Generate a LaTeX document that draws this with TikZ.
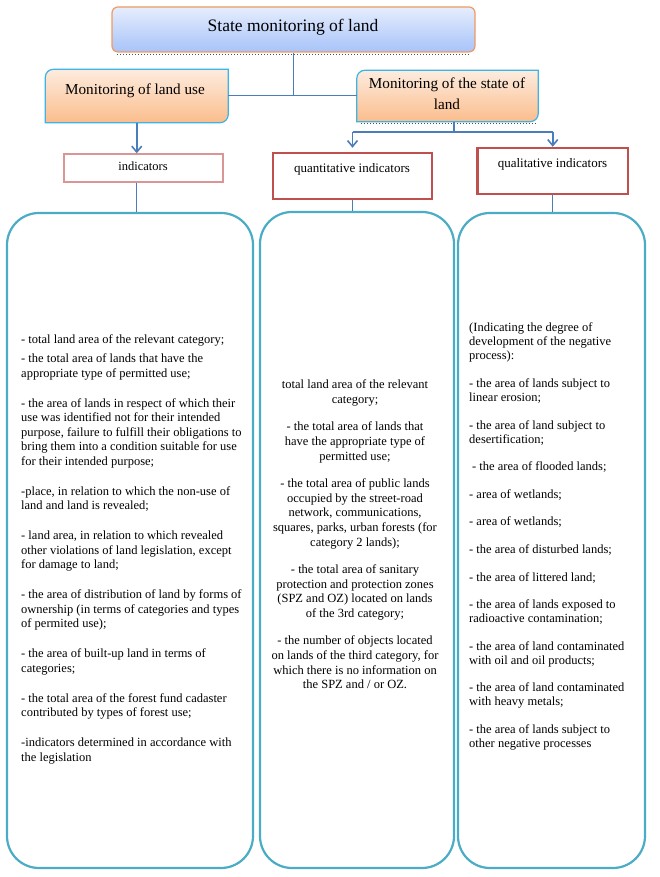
\documentclass[tikz,border=0pt]{standalone}
\usepackage{fontspec}
\setmainfont{Liberation Serif}
\usetikzlibrary{arrows.meta}
\definecolor{blueline}{HTML}{4A7EBB}
\definecolor{topA}{HTML}{E6EDFD}
\definecolor{topB}{HTML}{A7C3F9}
\definecolor{topborder}{HTML}{F09A63}
\definecolor{orA}{HTML}{FDECDF}
\definecolor{orB}{HTML}{FBBD8C}
\definecolor{cyanb}{HTML}{3CB4E5}
\definecolor{indborder}{HTML}{D99694}
\definecolor{redb}{HTML}{C0504D}
\definecolor{tealb}{HTML}{4BACC6}
\begin{document}
\begin{tikzpicture}[x=1pt,y=1pt,
  conn/.style={draw=blueline, line width=1pt},
  arr/.style={draw=blueline, line width=1.6pt, -{Straight Barb[length=6pt,width=10pt]}},
  arrline/.style={draw=blueline, line width=1.6pt},
  shapebox/.style={inner sep=0pt},
  redbox/.style={draw=redb, line width=2.4pt, fill=white, inner sep=0pt},
  bigbox/.style={draw=tealb, line width=2.2pt, rounded corners=32pt, fill=white, inner sep=0pt},
  lbl/.style={inner sep=0pt, align=center},
  body/.style={inner sep=0pt, font=\fontsize{12.5}{14.5}\selectfont}
]
\useasboundingbox (0,0) rectangle (659,877);
\fill[white] (0,0) rectangle (659,877);

% top box
\node[shapebox, draw=topborder, line width=1.2pt, rounded corners=6pt, top color=topA, bottom color=topB,
  minimum width=363pt, minimum height=45pt] (top) at (293.5,847.5) {};
\draw[dotted, line width=1pt, black!70] ([xshift=6pt,yshift=-1.6pt]top.south west) -- ([xshift=-6pt,yshift=-1.6pt]top.south east);
\node[lbl, font=\fontsize{17.5}{20}\selectfont] (toptxt) at (293,849.5) {State monitoring of land};

% level 2 boxes
\node[shapebox, minimum width=182.5pt, minimum height=53pt] (lu) at (136.75,781) {};
\path[draw=cyanb, line width=1.2pt, top color=orA, bottom color=orB]
  (lu.south west) -- ([yshift=-8pt]lu.north west) arc[start angle=180, end angle=90, radius=8pt]
  -- (lu.north east) -- ([yshift=8pt]lu.south east) arc[start angle=0, end angle=-90, radius=8pt] -- cycle;
\node[lbl, font=\fontsize{15.2}{21}\selectfont] (lutxt) at (135,786.5) {Monitoring of land use};

\node[shapebox, minimum width=181pt, minimum height=51pt] (rs) at (447.5,781) {};
\path[draw=cyanb, line width=1.2pt, top color=orA, bottom color=orB]
  (rs.south west) -- ([yshift=-8pt]rs.north west) arc[start angle=180, end angle=90, radius=8pt]
  -- (rs.north east) -- ([yshift=8pt]rs.south east) arc[start angle=0, end angle=-90, radius=8pt] -- cycle;
\draw[dotted, line width=1pt, black!70] ([xshift=4pt,yshift=-1.6pt]rs.south west) -- ([xshift=-2pt,yshift=-1.6pt]rs.south east);
\node[lbl, font=\fontsize{15.2}{21}\selectfont] (rstxt) at (447,783.5) {Monitoring of the state of\\land};

% level 3 boxes
\node[shapebox, draw=indborder, line width=1.3pt, fill=white, minimum width=159pt, minimum height=28pt] (ind) at (143.5,709) {};
\node[lbl, font=\fontsize{12.5}{14}\selectfont] (indtxt) at (143,711) {indicators};
\node[redbox, minimum width=159pt, minimum height=46pt] (quant) at (352.5,701) {};
\node[lbl, font=\fontsize{13}{15}\selectfont] (quanttxt) at (352,708) {quantitative indicators};
\node[redbox, minimum width=150.5pt, minimum height=46pt] (qual) at (552.75,706) {};
\node[lbl, font=\fontsize{13}{15}\selectfont] (qualtxt) at (552.5,713) {qualitative indicators};

% big boxes
\node[bigbox, minimum width=246pt, minimum height=655pt] (lbig) at (130,336.5) {};
\node[bigbox, minimum width=194pt, minimum height=656pt] (mbig) at (357,337) {};
\node[bigbox, minimum width=187pt, minimum height=655pt] (rbig) at (551.5,336.5) {};

% connectors
\draw[conn] (top.south) -- (top.south |- lu.east);
\draw[conn] (lu.east) -- (rs.west);
\draw[arr] (lu.south) -- (lu.south |- ind.north);
\coordinate (rj) at (454,745);
\draw[arrline] (rj |- rs.south) -- (rj);
\draw[arrline] (quant.north |- rj) -- (qual.north |- rj);
\draw[arr] (quant.north |- rj) -- ([yshift=4pt]quant.north);
\draw[arr] (qual.north |- rj) -- (qual.north);
\draw[conn] (lu.south |- ind.south) -- (lu.south |- lbig.north);
\draw[conn] (quant.south) -- (quant.south |- mbig.north);
\draw[conn] (qual.south) -- (qual.south |- rbig.north);

% body texts
\node[body, align=left, anchor=north west] (ltxt) at (21,542) {%
- total land area of the relevant category;\\[4.5pt]
- the total area of lands that have the\\
appropriate type of permitted use;\\[15.5pt]
- the area of lands in respect of which their\\
use was identified not for their intended\\
purpose, failure to fulfill their obligations to\\
bring them into a condition suitable for use\\
for their intended purpose;\\[15.5pt]
-place, in relation to which the non-use of\\
land and land is revealed;\\[15.5pt]
- land area, in relation to which revealed\\
other violations of land legislation, except\\
for damage to land;\\[15.5pt]
- the area of distribution of land by forms of\\
ownership (in terms of categories and types\\
of permited use);\\[15.5pt]
- the area of built-up land in terms of\\
categories;\\[15.5pt]
- the total area of the forest fund cadaster\\
contributed by types of forest use;\\[15.5pt]
-indicators determined in accordance with\\
the legislation};

\node[body, font=\fontsize{12.5}{14.7}\selectfont, align=center, anchor=north] (mtxt) at (355,497) {%
total land area of the relevant\\
category;\\[12.5pt]
- the total area of lands that\\
have the appropriate type of\\
permitted use;\\[12.5pt]
- the total area of public lands\\
occupied by the street-road\\
network, communications,\\
squares, parks, urban forests (for\\
category 2 lands);\\[12.5pt]
- the total area of sanitary\\
protection and protection zones\\
(SPZ and OZ) located on lands\\
of the 3rd category;\\[12.5pt]
- the number of objects located\\
on lands of the third category, for\\
which there is no information on\\
the SPZ and / or OZ.};

\node[body, font=\fontsize{12.5}{14}\selectfont, align=left, anchor=north west] (rtxt) at (469,554) {%
(Indicating the degree of\\
development of the negative\\
process):\\[13.6pt]
- the area of lands subject to\\
linear erosion;\\[13.6pt]
- the area of land subject to\\
desertification;\\[13.6pt]
\hspace{3pt}- the area of flooded lands;\\[13.6pt]
- area of wetlands;\\[13.6pt]
- area of wetlands;\\[13.6pt]
- the area of disturbed lands;\\[13.6pt]
- the area of littered land;\\[13.6pt]
- the area of lands exposed to\\
radioactive contamination;\\[13.6pt]
- the area of land contaminated\\
with oil and oil products;\\[13.6pt]
- the area of land contaminated\\
with heavy metals;\\[13.6pt]
- the area of lands subject to\\
other negative processes};
\end{tikzpicture}
\end{document}
